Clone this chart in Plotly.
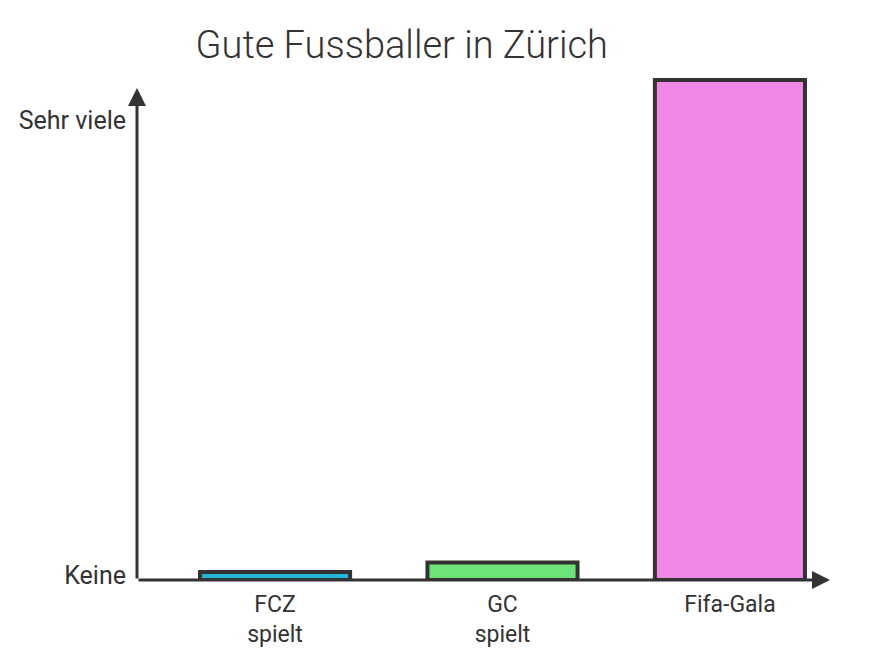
import plotly.graph_objects as go

categories = ["FCZ<br>spielt", "GC<br>spielt", "Fifa-Gala"]
values = [1.6, 3.5, 100]
colors = ["#22b5d8", "#6ee37a", "#ef88e6"]
ytick_vals = [1, 92]
ytick_text = ["Keine", "Sehr viele"]
title = "Gute Fussballer in Zürich"

ink = "#333333"
font = "Roboto, sans-serif"

fig = go.Figure()
fig.add_trace(go.Bar(
    x=categories, y=values, width=0.66,
    marker=dict(color=colors, line=dict(color=ink, width=4)),
    hoverinfo="skip",
))

fig.update_layout(
    width=873, height=664,
    paper_bgcolor="white", plot_bgcolor="white",
    margin=dict(l=129, r=51, t=62, b=92, autoexpand=False),
    title=dict(text=title, x=0.451, xanchor="center", y=0.944, yanchor="middle",
               font=dict(family=font, size=38, color=ink, weight=300)),
    showlegend=False,
    xaxis=dict(range=[-0.607, 2.44], showline=False, showgrid=False, zeroline=False,
               automargin=False, ticks="", ticklabelstandoff=8,
               tickfont=dict(family=font, size=23, color=ink)),
    yaxis=dict(range=[0, 102], showline=False, showgrid=False, zeroline=False,
               automargin=False, tickvals=ytick_vals, ticktext=ytick_text, ticks="",
               ticklabelstandoff=10,
               tickfont=dict(family=font, size=25, color=ink)),
)

# hand-drawn style axis arrows
fig.add_annotation(xref="paper", yref="y", x=1.0, y=0, axref="pixel", ayref="pixel",
                   ax=-693, ay=0, showarrow=True, arrowhead=2, arrowsize=1.2,
                   arrowwidth=3, arrowcolor=ink, text="")
fig.add_annotation(xref="paper", yref="y", x=0, y=98.4, axref="pixel", ayref="pixel",
                   ax=0, ay=492, showarrow=True, arrowhead=2, arrowsize=1.2,
                   arrowwidth=3, arrowcolor=ink, text="")

fig.write_html("out.html")
